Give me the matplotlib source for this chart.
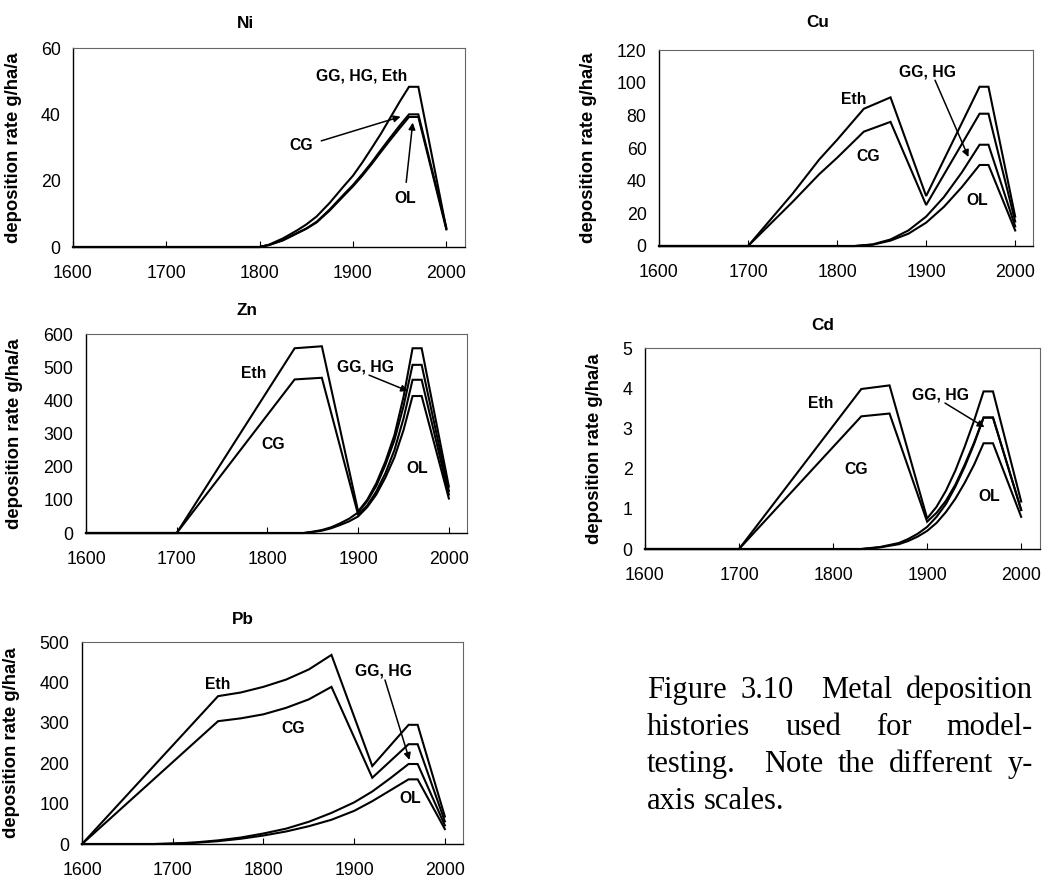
import matplotlib
matplotlib.use("Agg")
import matplotlib.pyplot as plt

plt.rcParams['font.family'] = ['Liberation Sans', 'DejaVu Sans']

# ---- data ----
ni_yr = [1600, 1800, 1810, 1825, 1840, 1850, 1861, 1875, 1890, 1900, 1910, 1920, 1930, 1940, 1950, 1960, 1970, 2000]
ni_gg_hg_eth = [0, 0, 0.7, 2.6, 5.0, 6.8, 9.2, 13.3, 18.3, 21.5, 25.5, 29.8, 34.2, 39.0, 43.8, 48.3, 48.3, 5.5]
ni_cg = [0, 0, 0.6, 2.1, 4.2, 5.6, 7.6, 11.3, 15.8, 18.7, 22.0, 25.5, 29.3, 33.0, 36.6, 40.0, 40.0, 5.8]
ni_ol = [0, 0, 0.6, 2.0, 4.1, 5.5, 7.4, 11.0, 15.4, 18.3, 21.5, 25.0, 28.7, 32.3, 35.8, 39.2, 39.2, 5.3]

cu_yr_a = [1600, 1700, 1750, 1780, 1800, 1830, 1860, 1900, 1960, 1970, 2000]
cu_eth = [0, 0, 32, 53, 65, 84, 91, 30.6, 97.5, 97.5, 18]
cu_cg = [0, 0, 27, 44, 54, 70, 76, 25.1, 81, 81, 15]
cu_yr_b = [1600, 1820, 1840, 1860, 1880, 1900, 1920, 1940, 1960, 1970, 2000]
cu_gg_hg = [0, 0, 1, 4, 9.5, 18, 30, 45, 62, 62, 12]
cu_ol = [0, 0, 0.8, 3.3, 7.5, 14.3, 24, 36, 49.6, 49.6, 9.5]

zn_yr_a = [1600, 1700, 1830, 1860, 1900, 1910, 1920, 1930, 1940, 1950, 1960, 1970, 2000]
zn_eth = [0, 0, 557, 563, 65, 100, 150, 215, 295, 410, 557, 557, 140]
zn_cg = [0, 0, 463, 468, 55, 83, 125, 180, 250, 345, 462, 462, 116]
zn_yr_b = [1600, 1840, 1850, 1860, 1870, 1880, 1890, 1900, 1910, 1920, 1930, 1940, 1950, 1960, 1970, 2000]
zn_gg_hg = [0, 0, 4, 9, 17, 29, 43, 62, 96, 142, 205, 280, 382, 507, 507, 127]
zn_ol = [0, 0, 3, 7, 14, 24, 35, 50, 78, 116, 167, 228, 310, 413, 413, 104]

cd_yr_a = [1600, 1700, 1830, 1860, 1900, 1910, 1920, 1930, 1940, 1950, 1960, 1970, 2000]
cd_eth = [0, 0, 3.98, 4.07, 0.76, 1.05, 1.45, 1.95, 2.55, 3.2, 3.92, 3.92, 1.18]
cd_cg = [0, 0, 3.3, 3.37, 0.68, 0.9, 1.2, 1.6, 2.1, 2.65, 3.27, 3.27, 0.97]
cd_yr_b = [1600, 1830, 1850, 1870, 1880, 1890, 1900, 1910, 1920, 1930, 1940, 1950, 1960, 1970, 2000]
cd_gg_hg = [0, 0, 0.05, 0.15, 0.25, 0.38, 0.55, 0.8, 1.12, 1.55, 2.05, 2.62, 3.27, 3.27, 0.97]
cd_ol = [0, 0, 0.04, 0.12, 0.2, 0.31, 0.45, 0.65, 0.92, 1.25, 1.65, 2.1, 2.63, 2.63, 0.8]

pb_yr_a = [1600, 1750, 1775, 1800, 1825, 1850, 1875, 1920, 1960, 1970, 2000]
pb_eth = [0, 366, 375, 389, 407, 432, 468, 193, 295, 295, 68]
pb_cg = [0, 304, 311, 321, 337, 358, 389, 164, 247, 247, 56]
pb_yr_b = [1600, 1680, 1700, 1725, 1750, 1775, 1800, 1825, 1850, 1875, 1900, 1920, 1940, 1960, 1970, 2000]
pb_gg_hg = [0, 0, 1, 4, 9, 16, 26, 38, 55, 77, 103, 130, 163, 198, 198, 46]
pb_ol = [0, 0, 1, 3, 7, 13, 21, 31, 44, 60, 82, 106, 133, 160, 160, 37]

x_ticks = [1600, 1700, 1800, 1900, 2000]
ylabel = 'deposition rate g/ha/a'
caption = ['Figure 3.10  Metal deposition',
           'histories used for model-',
           'testing.  Note the different y-',
           'axis scales.']

W, H = 1051, 880
fig = plt.figure(figsize=(W / 100, H / 100), dpi=100)


def make_ax(left, top, right, bottom, title, title_xy, ylab_x, ymax, ystep):
    ax = fig.add_axes([left / W, 1 - bottom / H, (right - left) / W, (bottom - top) / H])
    ax.set_xlim(1600, 2020)
    ax.set_ylim(0, ymax)
    ax.set_xticks(x_ticks)
    ax.set_yticks([i * ystep for i in range(int(round(ymax / ystep)) + 1)])
    ax.tick_params(axis='x', direction='in', length=4, pad=13, labelsize=12.8)
    ax.tick_params(axis='y', length=0, pad=9, labelsize=12.8)
    for s in ['top', 'right']:
        ax.spines[s].set_color('#666666')
        ax.spines[s].set_linewidth(0.8)
    for s in ['left', 'bottom']:
        ax.spines[s].set_linewidth(1.0)
    w = right - left
    h = bottom - top
    ax.text((title_xy[0] - left) / w, 1 + (top - title_xy[1]) / h, title,
            transform=ax.transAxes, ha='center', va='center',
            fontsize=12.3, fontweight='bold')
    ax.set_ylabel(ylabel, fontsize=13.3, fontweight='bold')
    ax.yaxis.set_label_coords((ylab_x - left) / w, 0.5)
    return ax


def curve(ax, x, y):
    ax.plot(x, y, color='black', lw=1.5, solid_joinstyle='miter', clip_on=False)


def label(ax, txt, xy):
    ax.text(xy[0], xy[1], txt, ha='center', va='center', fontsize=11.3, fontweight='bold')


def arrow(ax, start, tip):
    ax.annotate('', xy=tip, xytext=start,
                arrowprops=dict(arrowstyle='-|>', color='black', lw=1.1,
                                mutation_scale=10, shrinkA=0, shrinkB=0))


# Ni
ax = make_ax(73, 48, 465, 247, 'Ni', (245, 23), 22, 60, 20)
curve(ax, ni_yr, ni_gg_hg_eth)
curve(ax, ni_yr, ni_cg)
curve(ax, ni_yr, ni_ol)
label(ax, 'GG, HG, Eth', (1909, 51.5))
label(ax, 'CG', (1845, 30.5))
arrow(ax, (1866, 32.0), (1951, 39.3))
label(ax, 'OL', (1956, 14.5))
arrow(ax, (1957, 19.5), (1964, 37.5))

# Cu
ax = make_ax(659, 50, 1033, 246, 'Cu', (818, 22), 597, 120, 20)
curve(ax, cu_yr_a, cu_eth)
curve(ax, cu_yr_a, cu_cg)
curve(ax, cu_yr_b, cu_gg_hg)
curve(ax, cu_yr_b, cu_ol)
label(ax, 'Eth', (1819, 89.5))
label(ax, 'CG', (1835, 54.5))
label(ax, 'GG, HG', (1902, 106.5))
arrow(ax, (1910, 101.5), (1947.5, 54.5))
label(ax, 'OL', (1957, 28))

# Zn
ax = make_ax(86, 334, 467, 533, 'Zn', (247, 310), 23, 600, 100)
curve(ax, zn_yr_a, zn_eth)
curve(ax, zn_yr_a, zn_cg)
curve(ax, zn_yr_b, zn_gg_hg)
curve(ax, zn_yr_b, zn_ol)
label(ax, 'Eth', (1785, 482))
label(ax, 'CG', (1806, 267))
label(ax, 'GG, HG', (1908, 502))
arrow(ax, (1912, 476), (1955, 428))
label(ax, 'OL', (1965, 193))

# Cd
ax = make_ax(645, 348, 1040, 549, 'Cd', (823, 325), 603, 5, 1)
curve(ax, cd_yr_a, cd_eth)
curve(ax, cd_yr_a, cd_cg)
curve(ax, cd_yr_b, cd_gg_hg)
curve(ax, cd_yr_b, cd_ol)
label(ax, 'Eth', (1787, 3.61))
label(ax, 'CG', (1825, 1.97))
label(ax, 'GG, HG', (1914, 3.84))
arrow(ax, (1919, 3.63), (1961, 3.03))
label(ax, 'OL', (1966, 1.31))

# Pb
ax = make_ax(82, 642, 463, 844, 'Pb', (243, 619), 20, 500, 100)
curve(ax, pb_yr_a, pb_eth)
curve(ax, pb_yr_a, pb_cg)
curve(ax, pb_yr_b, pb_gg_hg)
curve(ax, pb_yr_b, pb_ol)
label(ax, 'Eth', (1750, 396))
label(ax, 'CG', (1833, 285))
label(ax, 'GG, HG', (1932, 427))
arrow(ax, (1934, 406), (1961, 208))
label(ax, 'OL', (1962, 113))

# caption, justified like the source document
renderer = fig.canvas.get_renderer()
cap_left, cap_right = 647, 1033
baselines = [698, 735, 772, 809]
for i, line in enumerate(caption):
    words = line.split(' ')
    y = 1 - baselines[i] / H
    texts = [fig.text(0, y, w, fontsize=22, family='Liberation Serif', va='baseline')
             for w in words]
    widths = [t.get_window_extent(renderer).width if w else 0 for t, w in zip(texts, words)]
    last = i == len(caption) - 1
    if last:
        gap = texts[0].get_fontsize() * 0.25 * 100 / 72
    else:
        gap = (cap_right - cap_left - sum(widths)) / (len(words) - 1)
    x = cap_left
    for t, wd in zip(texts, widths):
        t.set_x(x / W)
        x += wd + gap

fig.savefig('out.png', dpi=100)
